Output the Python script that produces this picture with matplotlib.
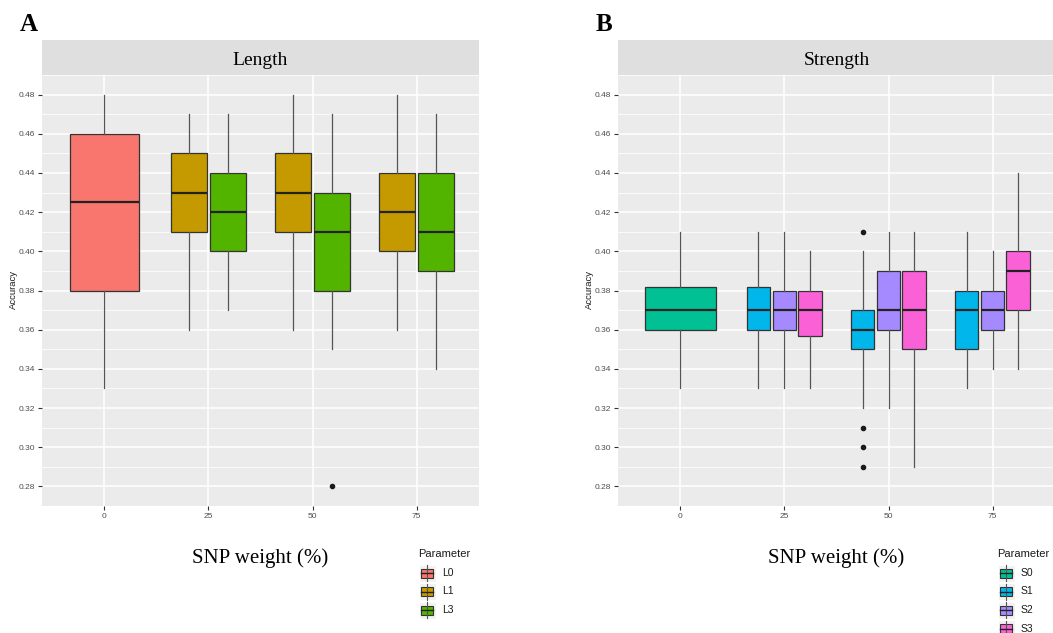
import matplotlib.pyplot as plt
from matplotlib.patches import Rectangle
from matplotlib.lines import Line2D
from matplotlib.ticker import MultipleLocator, FormatStrFormatter

# SNP weight categories (x axis)
weights = ['0', '25', '50', '75']

# each box: lower whisker, Q1, median, Q3, upper whisker
L0_weights = ['0']
L0_box = [[0.33, 0.38, 0.425, 0.46, 0.48]]
L0_out = [[]]

L1_weights = ['25', '50', '75']
L1_box = [[0.36, 0.41, 0.43, 0.45, 0.47],
          [0.36, 0.41, 0.43, 0.45, 0.48],
          [0.36, 0.40, 0.42, 0.44, 0.48]]
L1_out = [[], [], []]

L3_weights = ['25', '50', '75']
L3_box = [[0.37, 0.40, 0.42, 0.44, 0.47],
          [0.35, 0.38, 0.41, 0.43, 0.47],
          [0.34, 0.39, 0.41, 0.44, 0.47]]
L3_out = [[], [0.28], []]

S0_weights = ['0']
S0_box = [[0.33, 0.36, 0.37, 0.382, 0.41]]
S0_out = [[]]

S1_weights = ['25', '50', '75']
S1_box = [[0.33, 0.36, 0.37, 0.382, 0.41],
          [0.32, 0.35, 0.36, 0.37, 0.40],
          [0.33, 0.35, 0.37, 0.38, 0.41]]
S1_out = [[], [0.41, 0.31, 0.30, 0.29], []]

S2_weights = ['25', '50', '75']
S2_box = [[0.33, 0.36, 0.37, 0.38, 0.41],
          [0.32, 0.36, 0.37, 0.39, 0.41],
          [0.34, 0.36, 0.37, 0.38, 0.40]]
S2_out = [[], [], []]

S3_weights = ['25', '50', '75']
S3_box = [[0.33, 0.357, 0.37, 0.38, 0.40],
          [0.29, 0.35, 0.37, 0.39, 0.41],
          [0.34, 0.37, 0.39, 0.40, 0.44]]
S3_out = [[], [], []]

colors = {'L0': '#F8766D', 'L1': '#C49A00', 'L3': '#53B400',
          'S0': '#00C094', 'S1': '#00B6EB', 'S2': '#A58AFF', 'S3': '#FB61D7'}

W, H = 1053, 633
SERIF = 'Liberation Serif'
SANS = 'Liberation Sans'


def fx(x):
    return x / W


def fy(y):
    return 1 - y / H


def draw_group(ax, name, wts, boxes, outs, offset, width):
    stats = [dict(whislo=b[0], q1=b[1], med=b[2], q3=b[3], whishi=b[4], fliers=o)
             for b, o in zip(boxes, outs)]
    pos = [weights.index(w) + 1 + offset for w in wts]
    ax.bxp(stats, positions=pos, widths=width, patch_artist=True, showcaps=False,
           manage_ticks=False,
           boxprops=dict(facecolor=colors[name], edgecolor='#333333', linewidth=0.9),
           medianprops=dict(color='#222222', linewidth=1.6),
           whiskerprops=dict(color='#555555', linewidth=0.9),
           flierprops=dict(marker='o', markerfacecolor='#1a1a1a',
                           markeredgecolor='#1a1a1a', markersize=3))


def style_panel(ax):
    ax.set_facecolor('#EBEBEB')
    ax.set_xlim(0.4, 4.6)
    ax.set_ylim(0.27, 0.49)
    for s in ax.spines.values():
        s.set_visible(False)
    ax.set_xticks(range(1, len(weights) + 1))
    ax.set_xticklabels(weights)
    ax.yaxis.set_major_locator(MultipleLocator(0.02))
    ax.yaxis.set_minor_locator(MultipleLocator(0.01))
    ax.yaxis.set_major_formatter(FormatStrFormatter('%.2f'))
    ax.grid(which='major', color='white', linewidth=1.1)
    ax.grid(which='minor', axis='y', color='white', linewidth=0.55)
    ax.set_axisbelow(True)
    ax.tick_params(which='major', labelsize=6, labelcolor='#4D4D4D', color='#333333',
                   length=3, width=0.8, pad=2)
    ax.tick_params(which='minor', length=0)
    for lab in ax.get_xticklabels() + ax.get_yticklabels():
        lab.set_family(SANS)


def strip(fig, x0, width, title):
    sax = fig.add_axes([fx(x0), fy(75), fx(width), 35 / H])
    sax.set_facecolor('#DFDFDF')
    sax.set_xticks([])
    sax.set_yticks([])
    for s in sax.spines.values():
        s.set_visible(False)
    fig.text(fx(x0 + width / 2), fy(65), title, ha='center', va='baseline',
             family=SERIF, fontsize=14)


def legend(fig, x0, y0, names):
    fig.text(fx(x0), fy(y0 + 4), 'Parameter', ha='left', va='baseline',
             family=SANS, fontsize=8, color='#1a1a1a')
    for i, name in enumerate(names):
        cy = y0 + 20 + i * 18.5
        cx = x0 + 9
        fig.add_artist(Rectangle((fx(cx - 8.5), fy(cy + 8.5)), 17 / W, 17 / H,
                                 transform=fig.transFigure, facecolor='#F2F2F2',
                                 edgecolor='white', linewidth=0.8))
        fig.add_artist(Line2D([fx(cx), fx(cx)], [fy(cy + 8), fy(cy - 8)],
                              transform=fig.transFigure, color='#555555', linewidth=0.8))
        fig.add_artist(Rectangle((fx(cx - 6), fy(cy + 4.5)), 12 / W, 9 / H,
                                 transform=fig.transFigure, facecolor=colors[name],
                                 edgecolor='#333333', linewidth=0.8))
        fig.add_artist(Line2D([fx(cx - 6), fx(cx + 6)], [fy(cy), fy(cy)],
                              transform=fig.transFigure, color='#222222', linewidth=1.0))
        fig.text(fx(cx + 15), fy(cy), name, ha='left', va='center',
                 family=SANS, fontsize=7.5, color='#1a1a1a')


fig = plt.figure(figsize=(W / 100, H / 100), dpi=100)

# Panel A - Length
axA = fig.add_axes([fx(42), fy(506), fx(437), 431 / H])
style_panel(axA)
draw_group(axA, 'L0', L0_weights, L0_box, L0_out, 0.0, 0.67)
draw_group(axA, 'L1', L1_weights, L1_box, L1_out, -0.187, 0.345)
draw_group(axA, 'L3', L3_weights, L3_box, L3_out, 0.19, 0.345)
strip(fig, 42, 437, 'Length')

# Panel B - Strength
axB = fig.add_axes([fx(618), fy(506), fx(437), 431 / H])
style_panel(axB)
draw_group(axB, 'S0', S0_weights, S0_box, S0_out, 0.0, 0.68)
draw_group(axB, 'S1', S1_weights, S1_box, S1_out, -0.25, 0.225)
draw_group(axB, 'S2', S2_weights, S2_box, S2_out, 0.0, 0.225)
draw_group(axB, 'S3', S3_weights, S3_box, S3_out, 0.245, 0.225)
strip(fig, 618, 437, 'Strength')

# labels
for x, letter in [(20, 'A'), (596, 'B')]:
    fig.text(fx(x), fy(31), letter, ha='left', va='baseline', family=SERIF,
             fontsize=18, fontweight='bold')
for x in [13, 589]:
    fig.text(fx(x), fy(290), 'Accuracy', rotation=90, ha='center', va='center',
             family=SANS, fontsize=6.8, color='#1a1a1a')
for x in [42 + 437 / 2, 618 + 437 / 2]:
    fig.text(fx(x), fy(563), 'SNP weight (%)', ha='center', va='baseline',
             family=SERIF, fontsize=15)

legend(fig, 418, 553, ['L0', 'L1', 'L3'])
legend(fig, 997, 553, ['S0', 'S1', 'S2', 'S3'])

plt.savefig('out.png', dpi=100)
